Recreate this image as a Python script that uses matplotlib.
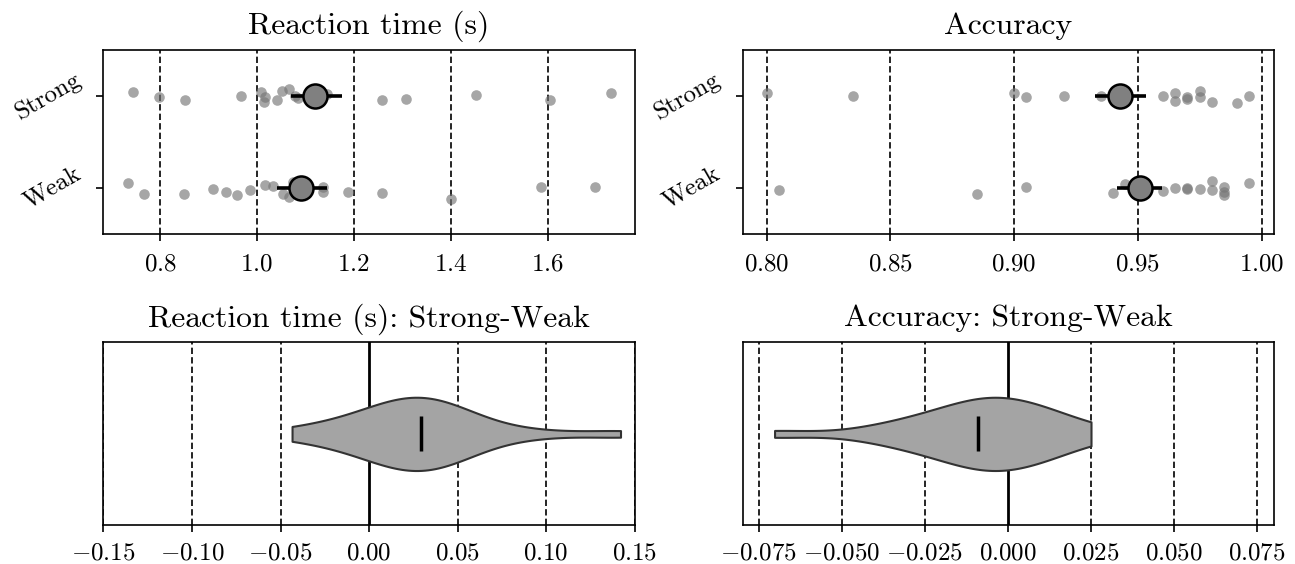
import numpy as np
import matplotlib
matplotlib.use("Agg")
import matplotlib.pyplot as plt

# ---------------- data ----------------
categories = ["Strong", "Weak"]

rt_strong = [0.744, 0.799, 0.852, 0.968, 1.008, 1.017, 1.015, 1.042, 1.051,
             1.066, 1.078, 1.085, 1.145, 1.259, 1.307, 1.453, 1.604, 1.730]
rt_strong_jitter = [-0.04, 0.01, 0.04, 0.0, -0.04, 0.01, 0.06, 0.04, -0.06,
                    -0.08, 0.0, 0.02, -0.02, 0.04, 0.03, -0.01, 0.04, -0.03]
rt_weak = [0.735, 0.767, 0.850, 0.909, 0.936, 0.958, 0.985, 1.017, 1.034, 1.053,
           1.066, 1.074, 1.100, 1.137, 1.137, 1.188, 1.259, 1.401, 1.586, 1.698]
rt_weak_jitter = [-0.05, 0.07, 0.07, 0.01, 0.04, 0.08, 0.02, -0.03, -0.02, 0.06,
                  0.10, -0.06, 0.0, -0.01, 0.04, 0.04, 0.05, 0.12, -0.01, -0.01]
rt_means = [1.120, 1.092]
rt_ci_low = [1.070, 1.042]
rt_ci_high = [1.175, 1.145]

acc_strong = [0.800, 0.835, 0.900, 0.905, 0.920, 0.935, 0.945, 0.960, 0.965,
              0.965, 0.970, 0.970, 0.975, 0.975, 0.980, 0.990, 0.995]
acc_strong_jitter = [-0.03, 0.0, -0.03, 0.01, 0.0, 0.0, 0.0, 0.0, -0.03,
                     0.05, 0.01, 0.03, -0.05, 0.01, 0.06, 0.08, 0.0]
acc_weak = [0.805, 0.885, 0.905, 0.940, 0.945, 0.950, 0.960, 0.965, 0.970,
            0.970, 0.975, 0.980, 0.980, 0.985, 0.985, 0.985, 0.995]
acc_weak_jitter = [0.02, 0.06, -0.01, 0.05, -0.04, 0.0, 0.03, 0.0, 0.0,
                   0.01, 0.01, -0.08, 0.02, -0.01, 0.04, 0.08, -0.05]
acc_means = [0.9427, 0.9507]
acc_ci_low = [0.9327, 0.9417]
acc_ci_high = [0.9533, 0.9596]

rt_diff = [-0.0435, -0.024, -0.010, -0.002, 0.004, 0.010, 0.015, 0.019, 0.022,
           0.025, 0.028, 0.031, 0.035, 0.040, 0.045, 0.048, 0.052, 0.060,
           0.090, 0.142]
acc_diff = [-0.0702, -0.040, -0.032, -0.026, -0.021, -0.017, -0.014, -0.011,
            -0.009, -0.007, -0.005, -0.003, -0.001, 0.001, 0.004, 0.007,
            0.010, 0.012, 0.016, 0.0251]

rt_ticks = [0.8, 1.0, 1.2, 1.4, 1.6]
acc_ticks = [0.80, 0.85, 0.90, 0.95, 1.00]
drt_ticks = [-0.15, -0.10, -0.05, 0.00, 0.05, 0.10, 0.15]
dacc_ticks = [-0.075, -0.050, -0.025, 0.000, 0.025, 0.050, 0.075]

# ---------------- style ----------------
plt.rcParams.update({
    "font.family": "serif",
    "font.serif": ["cmr10"],
    "mathtext.fontset": "cm",
    "axes.formatter.use_mathtext": True,
    "axes.unicode_minus": True,
    "axes.linewidth": 1.2,
    "xtick.major.width": 1.2,
    "ytick.major.width": 1.2,
    "xtick.major.size": 5.3,
    "ytick.major.size": 5.3,
})

TICK_FS = 18
TITLE_FS = 22.8
DASH = (0, (3.8, 1.9))

fig = plt.figure(figsize=(12.95, 5.64), dpi=100)
ax_rt = fig.add_axes([0.0799, 0.5851, 0.4102, 0.3262])
ax_acc = fig.add_axes([0.5735, 0.5851, 0.4100, 0.3262])
ax_drt = fig.add_axes([0.0799, 0.0683, 0.4102, 0.3248])
ax_dacc = fig.add_axes([0.5735, 0.0683, 0.4100, 0.3248])


def strip_panel(ax, groups, jitters, means, lo, hi, ticks, xlim, title):
    for t in ticks:
        ax.axvline(t, color="black", ls=DASH, lw=1.2, zorder=1)
    for i, (vals, jit) in enumerate(zip(groups, jitters)):
        ax.scatter(vals, i + np.asarray(jit), s=58, color="#767676",
                   alpha=0.65, linewidths=0, zorder=3)
    ypos = np.arange(len(groups))
    ax.hlines(ypos, lo, hi, color="black", lw=2.6, zorder=4)
    ax.scatter(means, ypos, s=300, color="#808080", edgecolor="black",
               linewidths=1.8, zorder=5)
    ax.set_xlim(*xlim)
    ax.set_ylim(1.5, -0.5)
    ax.set_xticks(ticks)
    ax.set_yticks(ypos)
    ax.set_yticklabels(categories, rotation=30, fontsize=TICK_FS, va="center")
    ax.tick_params(axis="y", pad=8)
    ax.tick_params(axis="x", labelsize=TICK_FS, pad=9)
    ax.set_title(title, fontsize=TITLE_FS, pad=11.5)


def violin_panel(ax, diff, ticks, xlim, title):
    for t in ticks:
        if abs(t) > 1e-12:
            ax.axvline(t, color="black", ls=DASH, lw=1.2, zorder=1)
    ax.axvline(0, color="black", lw=2.0, zorder=2)
    parts = ax.violinplot(diff, positions=[0], orientation="horizontal",
                          widths=0.4, showextrema=False)
    for b in parts["bodies"]:
        b.set_facecolor("#a4a4a4")
        b.set_edgecolor("#333333")
        b.set_linewidth(1.5)
        b.set_alpha(1)
        b.set_zorder(3)
    ax.vlines(np.mean(diff), -0.095, 0.095, color="black", lw=2.5, zorder=4)
    ax.set_xlim(*xlim)
    ax.set_ylim(-0.5, 0.5)
    ax.set_yticks([])
    ax.set_xticks(ticks)
    ax.tick_params(axis="x", labelsize=TICK_FS, pad=7)
    ax.set_title(title, fontsize=TITLE_FS, pad=11.5)


strip_panel(ax_rt, [rt_strong, rt_weak], [rt_strong_jitter, rt_weak_jitter],
            rt_means, rt_ci_low, rt_ci_high, rt_ticks, (0.6834, 1.7798),
            "Reaction time (s)")
strip_panel(ax_acc, [acc_strong, acc_weak], [acc_strong_jitter, acc_weak_jitter],
            acc_means, acc_ci_low, acc_ci_high, acc_ticks, (0.7903, 1.0049),
            "Accuracy")
violin_panel(ax_drt, rt_diff, drt_ticks, (-0.15, 0.15),
             "Reaction time (s): Strong-Weak")
violin_panel(ax_dacc, acc_diff, dacc_ticks, (-0.0798, 0.0801),
             "Accuracy: Strong-Weak")

fig.savefig("out.png", dpi=100)
